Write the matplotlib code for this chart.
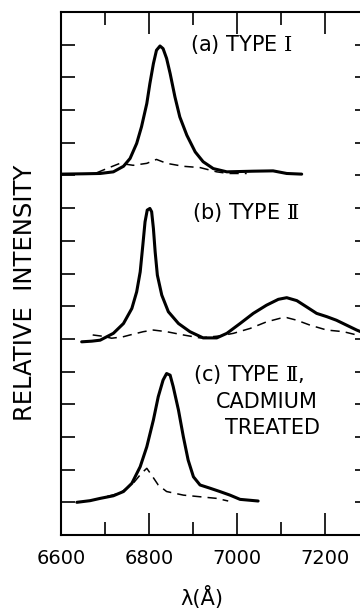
import numpy as np
import matplotlib
matplotlib.use("Agg")
import matplotlib.pyplot as plt
from matplotlib.ticker import MultipleLocator, FixedLocator

plt.rcParams['mathtext.fontset'] = 'custom'
plt.rcParams['mathtext.rm'] = 'DejaVu Serif'

# wavelength (Angstrom) and relative intensity, each trace offset onto its own baseline
# (a) type I, baseline 11
a_solid_x = [6598, 6650, 6689, 6719, 6742, 6757, 6772, 6783, 6795, 6802, 6810, 6817,
             6825, 6832, 6840, 6848, 6859, 6870, 6886, 6905, 6923, 6946, 6977, 7037,
             7082, 7113, 7147]
a_solid_y = [11.04, 11.05, 11.06, 11.11, 11.28, 11.52, 11.98, 12.49, 13.20, 13.81,
             14.42, 14.83, 14.96, 14.88, 14.58, 14.12, 13.40, 12.79, 12.23, 11.72,
             11.42, 11.21, 11.11, 11.13, 11.14, 11.06, 11.04]
a_dash_x = [6681, 6704, 6734, 6764, 6795, 6817, 6840, 6878, 6916, 6954, 6980, 7022]
a_dash_y = [11.08, 11.21, 11.37, 11.31, 11.37, 11.49, 11.37, 11.28, 11.24, 11.11,
            11.06, 11.06]

# (b) type II, baseline 6
b_solid_x = [6647, 6670, 6689, 6719, 6742, 6761, 6772, 6780, 6786, 6791, 6796, 6802,
             6806, 6810, 6814, 6819, 6829, 6844, 6867, 6893, 6923, 6954, 6977, 7007,
             7037, 7067, 7094, 7113, 7136, 7158, 7181, 7204, 7226, 7249, 7272, 7290]
b_solid_y = [5.91, 5.93, 5.96, 6.17, 6.47, 6.93, 7.44, 8.05, 8.87, 9.58, 9.94, 9.99,
             9.89, 9.38, 8.66, 7.95, 7.34, 6.83, 6.47, 6.22, 6.03, 6.03, 6.17, 6.47,
             6.78, 7.03, 7.21, 7.26, 7.17, 6.98, 6.78, 6.68, 6.57, 6.42, 6.27, 6.17]
b_dash_x = [6672, 6695, 6715, 6740, 6757, 6787, 6810, 6840, 6878, 6916, 6961, 6992,
            7030, 7067, 7098, 7113, 7136, 7166, 7204, 7242, 7272, 7290]
b_dash_y = [6.12, 6.08, 6.02, 6.06, 6.12, 6.22, 6.27, 6.22, 6.12, 6.03, 6.09, 6.17,
            6.32, 6.52, 6.63, 6.65, 6.57, 6.42, 6.27, 6.22, 6.12, 6.06]

# (c) type II, cadmium treated, baseline 1
c_solid_x = [6636, 6666, 6689, 6719, 6742, 6761, 6780, 6795, 6810, 6821, 6832, 6840,
             6848, 6855, 6867, 6878, 6889, 6901, 6916, 6939, 6961, 6984, 7007, 7048]
c_solid_y = [1.0, 1.05, 1.12, 1.2, 1.33, 1.58, 2.09, 2.70, 3.52, 4.23, 4.74, 4.94,
             4.89, 4.54, 3.82, 3.01, 2.29, 1.78, 1.53, 1.43, 1.33, 1.22, 1.09, 1.04]
c_dash_x = [6705, 6734, 6764, 6783, 6795, 6806, 6821, 6840, 6878, 6916, 6954, 6980]
c_dash_y = [1.18, 1.28, 1.58, 1.89, 2.04, 1.83, 1.53, 1.33, 1.22, 1.17, 1.12, 1.04]

x_labels = [6600, 6800, 7000, 7200]

fig = plt.figure(figsize=(3.6, 6.11), dpi=100)
ax = fig.add_axes([61 / 360, 1 - 535 / 611, 308 / 360, 523 / 611])

for xs, ys in [(a_solid_x, a_solid_y), (b_solid_x, b_solid_y), (c_solid_x, c_solid_y)]:
    ax.plot(xs, ys, color='black', linewidth=2.2, solid_capstyle='round',
            solid_joinstyle='round')
for xs, ys in [(a_dash_x, a_dash_y), (b_dash_x, b_dash_y), (c_dash_x, c_dash_y)]:
    ax.plot(xs, ys, color='black', linewidth=1.1, dashes=(6, 4))

ax.set_xlim(6600, 7300)
ax.set_ylim(0, 16)

ax.xaxis.set_major_locator(FixedLocator(x_labels))
ax.xaxis.set_minor_locator(MultipleLocator(200, offset=100))
ax.yaxis.set_major_locator(FixedLocator(range(1, 16)))
ax.tick_params(axis='x', which='major', direction='in', top=True, bottom=True,
               length=16, width=1.2, labelsize=14, pad=10)
ax.tick_params(axis='x', which='minor', direction='in', top=True, bottom=True,
               length=9.5, width=1.2)
ax.tick_params(axis='y', direction='in', left=True, right=True, length=10, width=1.2,
               labelleft=False)
for s in ax.spines.values():
    s.set_linewidth(1.5)

fs = 15
ax.text(6893, 15.0, r'(a) TYPE $\mathrm{Ⅰ}$', fontsize=fs, va='center', ha='left')
ax.text(6898, 9.88, r'(b) TYPE $\mathrm{Ⅱ}$', fontsize=fs, va='center', ha='left')
ax.text(6900, 4.9, r'(c) TYPE $\mathrm{Ⅱ}$,', fontsize=fs, va='center', ha='left')
ax.text(7068, 4.07, 'CADMIUM', fontsize=fs, va='center', ha='center')
ax.text(7080, 3.27, 'TREATED', fontsize=fs, va='center', ha='center')

fig.text(25 / 360, 1 - 293 / 611, 'RELATIVE  INTENSITY', rotation=90, fontsize=17.5,
         ha='center', va='center')
fig.text(202 / 360, 1 - 597 / 611, 'λ(Å)', fontsize=15, ha='center', va='center')

fig.savefig('out.png', dpi=100)
